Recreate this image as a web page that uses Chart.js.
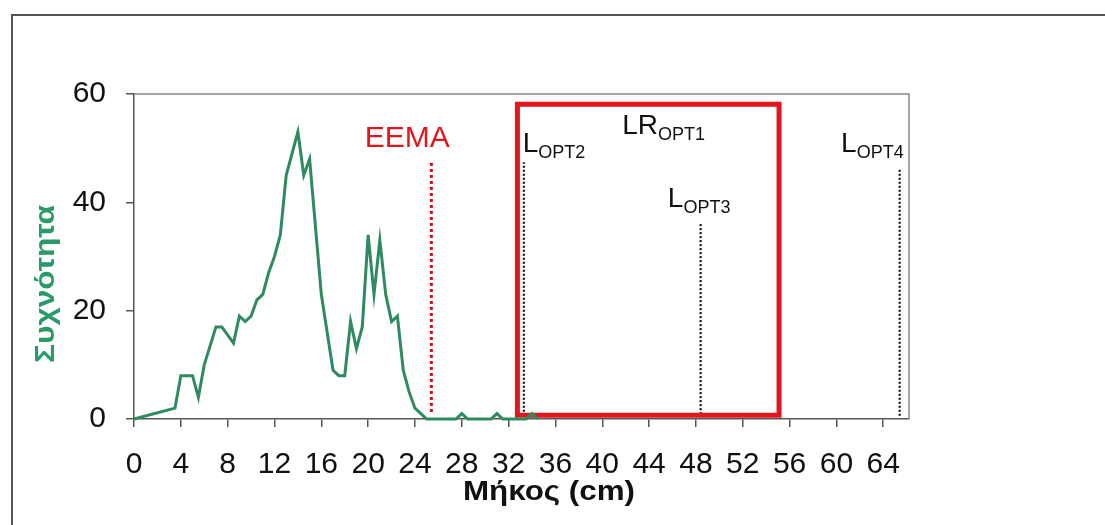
<!DOCTYPE html>
<html>
<head>
<meta charset="utf-8">
<script src="https://cdn.jsdelivr.net/npm/chart.js@4.4.0/dist/chart.umd.min.js"></script>
<style>
html, body { margin: 0; padding: 0; background: #fff; }
#wrap { width: 1105px; height: 525px; }
canvas { background: #fff; }
</style>
</head>
<body>
<div id="wrap"><canvas id="myChart" width="1105" height="525"></canvas></div>
<script>
// length classes (cm) and counts
var lengths = [0, 3.5, 4, 5, 5.5, 6, 7, 7.5, 8.5, 9, 9.5, 10, 10.5, 11, 11.5, 12, 12.5, 13, 14, 14.5,
               15, 16, 17, 17.5, 18, 18.5, 19, 19.5, 20, 20.5, 21, 21.5, 22, 22.5, 23, 23.5, 24, 25, 27.5, 28,
               28.5, 30.5, 31, 31.5, 33.5, 34, 34.5];
var freqs = [0, 2, 8, 8, 4, 10, 17, 17, 14, 19, 18, 19, 22, 23, 27, 30, 34, 45, 53, 45,
             48, 23, 9, 8, 8, 18, 13, 17, 34, 23, 33, 23, 18, 19, 9, 5, 2, 0, 0, 1,
             0, 0, 1, 0, 0, 1, 0];

// vertical reference lines: EEMA, Lopt2, Lopt3, Lopt4
var markerX = [25.4, 33.3, 48.4, 65.4];
var markerTop = [47.5, 47.4, 36.3, 46.3];
var markerBottom = [1.3, 0.6, 0.9, 0.6];

// LRopt1 range box
var boxX = [32.75, 55.1];
var boxY = [0.7, 58.1];

var xTicks = [0, 4, 8, 12, 16, 20, 24, 28, 32, 36, 40, 44, 48, 52, 56, 60, 64];
var yTicks = [0, 20, 40, 60];

var FONT = "'Liberation Sans', Arial, sans-serif";
var RED = "#e3161e";
var GREEN = "#2e8b60";

var notes = [
  {text: "EEMA", sub: "", x: 19.7, y: 50.2, size: 30, color: RED},
  {text: "L", sub: "OPT2", x: 33.2, y: 49.3, size: 28, color: "#111"},
  {text: "LR", sub: "OPT1", x: 41.7, y: 52.6, size: 28, color: "#111"},
  {text: "L", sub: "OPT3", x: 45.6, y: 39.2, size: 28, color: "#111"},
  {text: "L", sub: "OPT4", x: 60.4, y: 49.3, size: 28, color: "#111"}
];

function markerSet(i, color, width, dash) {
  return {
    data: [{x: markerX[i], y: markerBottom[i]}, {x: markerX[i], y: markerTop[i]}],
    borderColor: color, borderWidth: width, borderDash: dash,
    pointRadius: 0, fill: false, clip: 6
  };
}

var extras = {
  id: "extras",
  afterDraw: function (chart) {
    var ctx = chart.ctx, a = chart.chartArea;
    var xs = chart.scales.x, ys = chart.scales.y;
    ctx.save();
    // outer frame (figure border)
    ctx.strokeStyle = "#555";
    ctx.lineWidth = 2;
    ctx.beginPath();
    ctx.moveTo(12, 525);
    ctx.lineTo(12, 15);
    ctx.lineTo(1105, 15);
    ctx.stroke();
    // plot area border top/right
    ctx.strokeStyle = "#888";
    ctx.lineWidth = 1.5;
    ctx.beginPath();
    ctx.moveTo(a.left, a.top);
    ctx.lineTo(a.right, a.top);
    ctx.lineTo(a.right, a.bottom);
    ctx.stroke();

    // annotations
    ctx.textAlign = "left";
    ctx.textBaseline = "alphabetic";
    notes.forEach(function (n) {
      var px = xs.getPixelForValue(n.x), py = ys.getPixelForValue(n.y);
      ctx.fillStyle = n.color;
      ctx.font = n.size + "px " + FONT;
      ctx.fillText(n.text, px, py);
      if (n.sub) {
        var w = ctx.measureText(n.text).width;
        ctx.font = "18px " + FONT;
        ctx.fillText(n.sub, px + w, py + 6);
      }
    });

    // axis titles
    ctx.font = "bold 27px " + FONT;
    ctx.fillStyle = "#111";
    ctx.textAlign = "center";
    var t = "Μήκος (cm)";
    var sx = 172 / ctx.measureText(t).width;
    ctx.save();
    ctx.translate(549, 500);
    ctx.scale(sx, 1);
    ctx.fillText(t, 0, 0);
    ctx.restore();

    t = "Συχνότητα";
    ctx.fillStyle = "#2a9a68";
    var sy = 158 / ctx.measureText(t).width;
    ctx.save();
    ctx.translate(54, 284);
    ctx.rotate(-Math.PI / 2);
    ctx.scale(sy, 1);
    ctx.fillText(t, 0, 0);
    ctx.restore();
    ctx.restore();
  }
};

var ctx_live = document.getElementById("myChart");
var myChart = new Chart(ctx_live, {
  type: "line",
  data: {
    datasets: [
      {
        data: lengths.map(function (v, i) { return {x: v, y: freqs[i]}; }),
        borderColor: GREEN, borderWidth: 3, pointRadius: 0, tension: 0, fill: false, clip: 6
      },
      {
        data: [{x: boxX[0], y: boxY[0]}, {x: boxX[0], y: boxY[1]}, {x: boxX[1], y: boxY[1]},
               {x: boxX[1], y: boxY[0]}, {x: boxX[0], y: boxY[0]}],
        borderColor: RED, borderWidth: 5, borderJoinStyle: "miter", borderCapStyle: "square",
        pointRadius: 0, fill: false, clip: 6
      },
      markerSet(0, "#d0101e", 3, [3, 3]),
      markerSet(1, "#111", 2.2, [2, 2]),
      markerSet(2, "#111", 2.2, [2, 2]),
      markerSet(3, "#111", 2.2, [2, 2])
    ]
  },
  options: {
    responsive: false,
    animation: false,
    events: [],
    layout: {padding: {top: 94, right: 196, bottom: 0, left: 0}},
    plugins: {legend: {display: false}, tooltip: {enabled: false}},
    scales: {
      x: {
        type: "linear", min: 0, max: 66.2,
        afterBuildTicks: function (s) { s.ticks = xTicks.map(function (v) { return {value: v}; }); },
        afterFit: function (s) { s.height = 106; },
        grid: {drawOnChartArea: false, drawTicks: true, tickLength: 8, color: "#555", lineWidth: 1.5},
        border: {display: true, color: "#555", width: 1.5},
        ticks: {color: "#111", font: {family: FONT, size: 30}, padding: 20, maxRotation: 0, autoSkip: false}
      },
      y: {
        type: "linear", min: 0, max: 60,
        afterBuildTicks: function (s) { s.ticks = yTicks.map(function (v) { return {value: v}; }); },
        afterFit: function (s) { s.width = 134; },
        grid: {drawOnChartArea: false, drawTicks: true, tickLength: 8, color: "#555", lineWidth: 1.5},
        border: {display: true, color: "#555", width: 1.5},
        ticks: {color: "#111", font: {family: FONT, size: 30}, padding: 20}
      }
    }
  },
  plugins: [extras]
});
</script>
</body>
</html>
